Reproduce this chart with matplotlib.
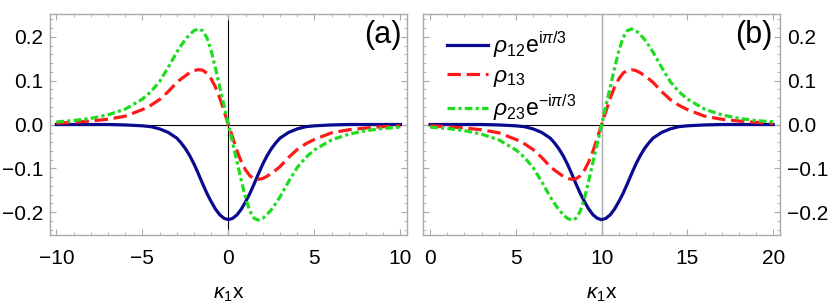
import matplotlib

matplotlib.use("Agg")
import matplotlib.pyplot as plt
from matplotlib.ticker import MultipleLocator, FuncFormatter

plt.rcParams["font.family"] = ["Liberation Sans", "DejaVu Sans"]
plt.rcParams["mathtext.fontset"] = "custom"
plt.rcParams["mathtext.rm"] = "Liberation Sans"
plt.rcParams["mathtext.it"] = "Liberation Sans:italic"

# --- values ---
# panel (a), x from -10 to 10
x_a = [-10, -9, -8, -7, -6, -5, -4.5, -4, -3.5, -3, -2.75, -2.5, -2.25, -2, -1.75,
       -1.5, -1.25, -1, -0.75, -0.5, -0.25, 0, 0.25, 0.5, 0.75, 1, 1.25, 1.5, 1.75,
       2, 2.25, 2.5, 2.75, 3, 3.5, 4, 4.5, 5, 6, 7, 8, 9, 10]
rho12_a = [0.0, 0.0, 0.0, 0.0, -0.001, -0.003, -0.005, -0.010, -0.018, -0.031, -0.042,
           -0.055, -0.071, -0.090, -0.112, -0.135, -0.157, -0.176, -0.193, -0.206,
           -0.214, -0.217, -0.214, -0.206, -0.193, -0.176, -0.157, -0.135, -0.112,
           -0.090, -0.071, -0.055, -0.042, -0.031, -0.018, -0.010, -0.005, -0.003,
           -0.001, 0.0, 0.0, 0.0, 0.0]
rho13_a = [0.003, 0.005, 0.008, 0.012, 0.019, 0.034, 0.044, 0.057, 0.075, 0.096, 0.104,
           0.111, 0.118, 0.123, 0.125, 0.124, 0.117, 0.104, 0.085, 0.060, 0.030, 0.0,
           -0.030, -0.060, -0.085, -0.104, -0.117, -0.124, -0.125, -0.123, -0.118,
           -0.111, -0.104, -0.096, -0.075, -0.057, -0.044, -0.034, -0.019, -0.012,
           -0.008, -0.005, -0.003]
rho23_a = [0.006, 0.009, 0.014, 0.022, 0.035, 0.058, 0.075, 0.098, 0.130, 0.165, 0.180,
           0.194, 0.205, 0.214, 0.218, 0.214, 0.198, 0.168, 0.128, 0.085, 0.043, 0.0,
           -0.043, -0.085, -0.128, -0.168, -0.198, -0.214, -0.218, -0.214, -0.205,
           -0.194, -0.180, -0.165, -0.130, -0.098, -0.075, -0.058, -0.035, -0.022,
           -0.014, -0.009, -0.006]

# panel (b), x from 0 to 20
x_b = [0, 1, 2, 3, 4, 5, 5.5, 6, 6.5, 7, 7.25, 7.5, 7.75, 8, 8.25, 8.5, 8.75, 9, 9.25,
       9.5, 9.75, 10, 10.25, 10.5, 10.75, 11, 11.25, 11.5, 11.75, 12, 12.25, 12.5,
       12.75, 13, 13.5, 14, 14.5, 15, 16, 17, 18, 19, 20]
rho12_b = [0.0, 0.0, 0.0, 0.0, -0.001, -0.003, -0.005, -0.010, -0.018, -0.031, -0.042,
           -0.055, -0.071, -0.090, -0.112, -0.135, -0.157, -0.176, -0.193, -0.206,
           -0.214, -0.217, -0.214, -0.206, -0.193, -0.176, -0.157, -0.135, -0.112,
           -0.090, -0.071, -0.055, -0.042, -0.031, -0.018, -0.010, -0.005, -0.003,
           -0.001, 0.0, 0.0, 0.0, 0.0]
rho13_b = [-0.003, -0.005, -0.008, -0.012, -0.019, -0.034, -0.044, -0.057, -0.075,
           -0.096, -0.104, -0.111, -0.118, -0.123, -0.125, -0.124, -0.117, -0.104,
           -0.085, -0.060, -0.030, 0.0, 0.030, 0.060, 0.085, 0.104, 0.117, 0.124,
           0.125, 0.123, 0.118, 0.111, 0.104, 0.096, 0.075, 0.057, 0.044, 0.034,
           0.019, 0.012, 0.008, 0.005, 0.003]
rho23_b = [-0.006, -0.009, -0.014, -0.022, -0.035, -0.058, -0.075, -0.098, -0.130,
           -0.165, -0.180, -0.194, -0.205, -0.214, -0.218, -0.214, -0.198, -0.168,
           -0.128, -0.085, -0.043, 0.0, 0.043, 0.085, 0.128, 0.168, 0.198, 0.214,
           0.218, 0.214, 0.205, 0.194, 0.180, 0.165, 0.130, 0.098, 0.075, 0.058,
           0.035, 0.022, 0.014, 0.009, 0.006]

labels = [r"$\rho_{12}\mathrm{e}^{\mathrm{i}\pi/3}$", r"$\rho_{13}$",
          r"$\rho_{23}\mathrm{e}^{-\mathrm{i}\pi/3}$"]

BLUE, RED, GREEN = "#0a0a8f", "#ff1a1a", "#1fdc1f"
FRAME = "#aaaaaa"
LW = 2.3


def fmt(v, _):
    return f"{v:.1f}".replace("-", "\u2212") if abs(v) > 1e-9 else "0.0"


def style(ax, right_labels=False):
    for s in ax.spines.values():
        s.set_color(FRAME)
        s.set_linewidth(1.0)
    ax.xaxis.set_major_locator(MultipleLocator(5))
    ax.xaxis.set_minor_locator(MultipleLocator(1))
    ax.yaxis.set_major_locator(MultipleLocator(0.1))
    ax.yaxis.set_minor_locator(MultipleLocator(0.02))
    ax.yaxis.set_major_formatter(FuncFormatter(fmt))
    ax.tick_params(which="both", direction="in", top=True, right=True, color=FRAME,
                   labelsize=15)
    ax.tick_params(which="major", length=4, width=0.8)
    ax.tick_params(which="minor", length=2, width=0.6)
    ax.tick_params(axis="x", pad=10)
    ax.tick_params(axis="y", pad=5, labelleft=not right_labels, labelright=right_labels)
    ax.set_ylim(-0.252, 0.252)
    ax.set_xlabel(r"$\kappa_1\mathrm{x}$", fontsize=15, labelpad=12)


fig = plt.figure(figsize=(8.3, 3.05), dpi=100)
ax1 = fig.add_axes([50 / 830, 70 / 305, 357 / 830, 221 / 305])
ax2 = fig.add_axes([423.3 / 830, 70 / 305, 356.7 / 830, 221 / 305])

# (a)
ax1.axhline(0, color="black", lw=0.8, zorder=1)
ax1.axvline(0, color="black", lw=0.8, zorder=1)
ax1.plot(x_a, rho12_a, color=BLUE, lw=LW, zorder=3)
ax1.plot(x_a, rho13_a, color=RED, lw=LW, dashes=(4.2, 1.8), zorder=3)
ax1.plot(x_a, rho23_a, color=GREEN, lw=LW, dashes=(2.4, 1.0, 1.0, 1.0), zorder=3)
ax1.set_xlim(-10.37, 10.38)
style(ax1)
ax1.text(0.986, 0.975, "(a)", transform=ax1.transAxes, ha="right", va="top",
         fontsize=22)

# (b)
ax2.axhline(0, color="black", lw=0.8, zorder=1)
ax2.axvline(10, color=FRAME, lw=1.0, zorder=1)
ax2.plot(x_b, rho12_b, color=BLUE, lw=LW, zorder=3, label=labels[0])
ax2.plot(x_b, rho13_b, color=RED, lw=LW, dashes=(4.2, 1.8), zorder=3, label=labels[1])
ax2.plot(x_b, rho23_b, color=GREEN, lw=LW, dashes=(2.4, 1.0, 1.0, 1.0), zorder=3,
         label=labels[2])
ax2.set_xlim(-0.4, 20.4)
style(ax2, right_labels=True)
ax2.text(0.980, 0.975, "(b)", transform=ax2.transAxes, ha="right", va="top",
         fontsize=22)
ax2.legend(loc="upper left", bbox_to_anchor=(23.4 / 356.7, 0.93), frameon=False,
           fontsize=16.5, handlelength=1.8, handletextpad=0.2, labelspacing=0.15,
           borderpad=0, borderaxespad=0)

fig.savefig("out.png", dpi=100)
